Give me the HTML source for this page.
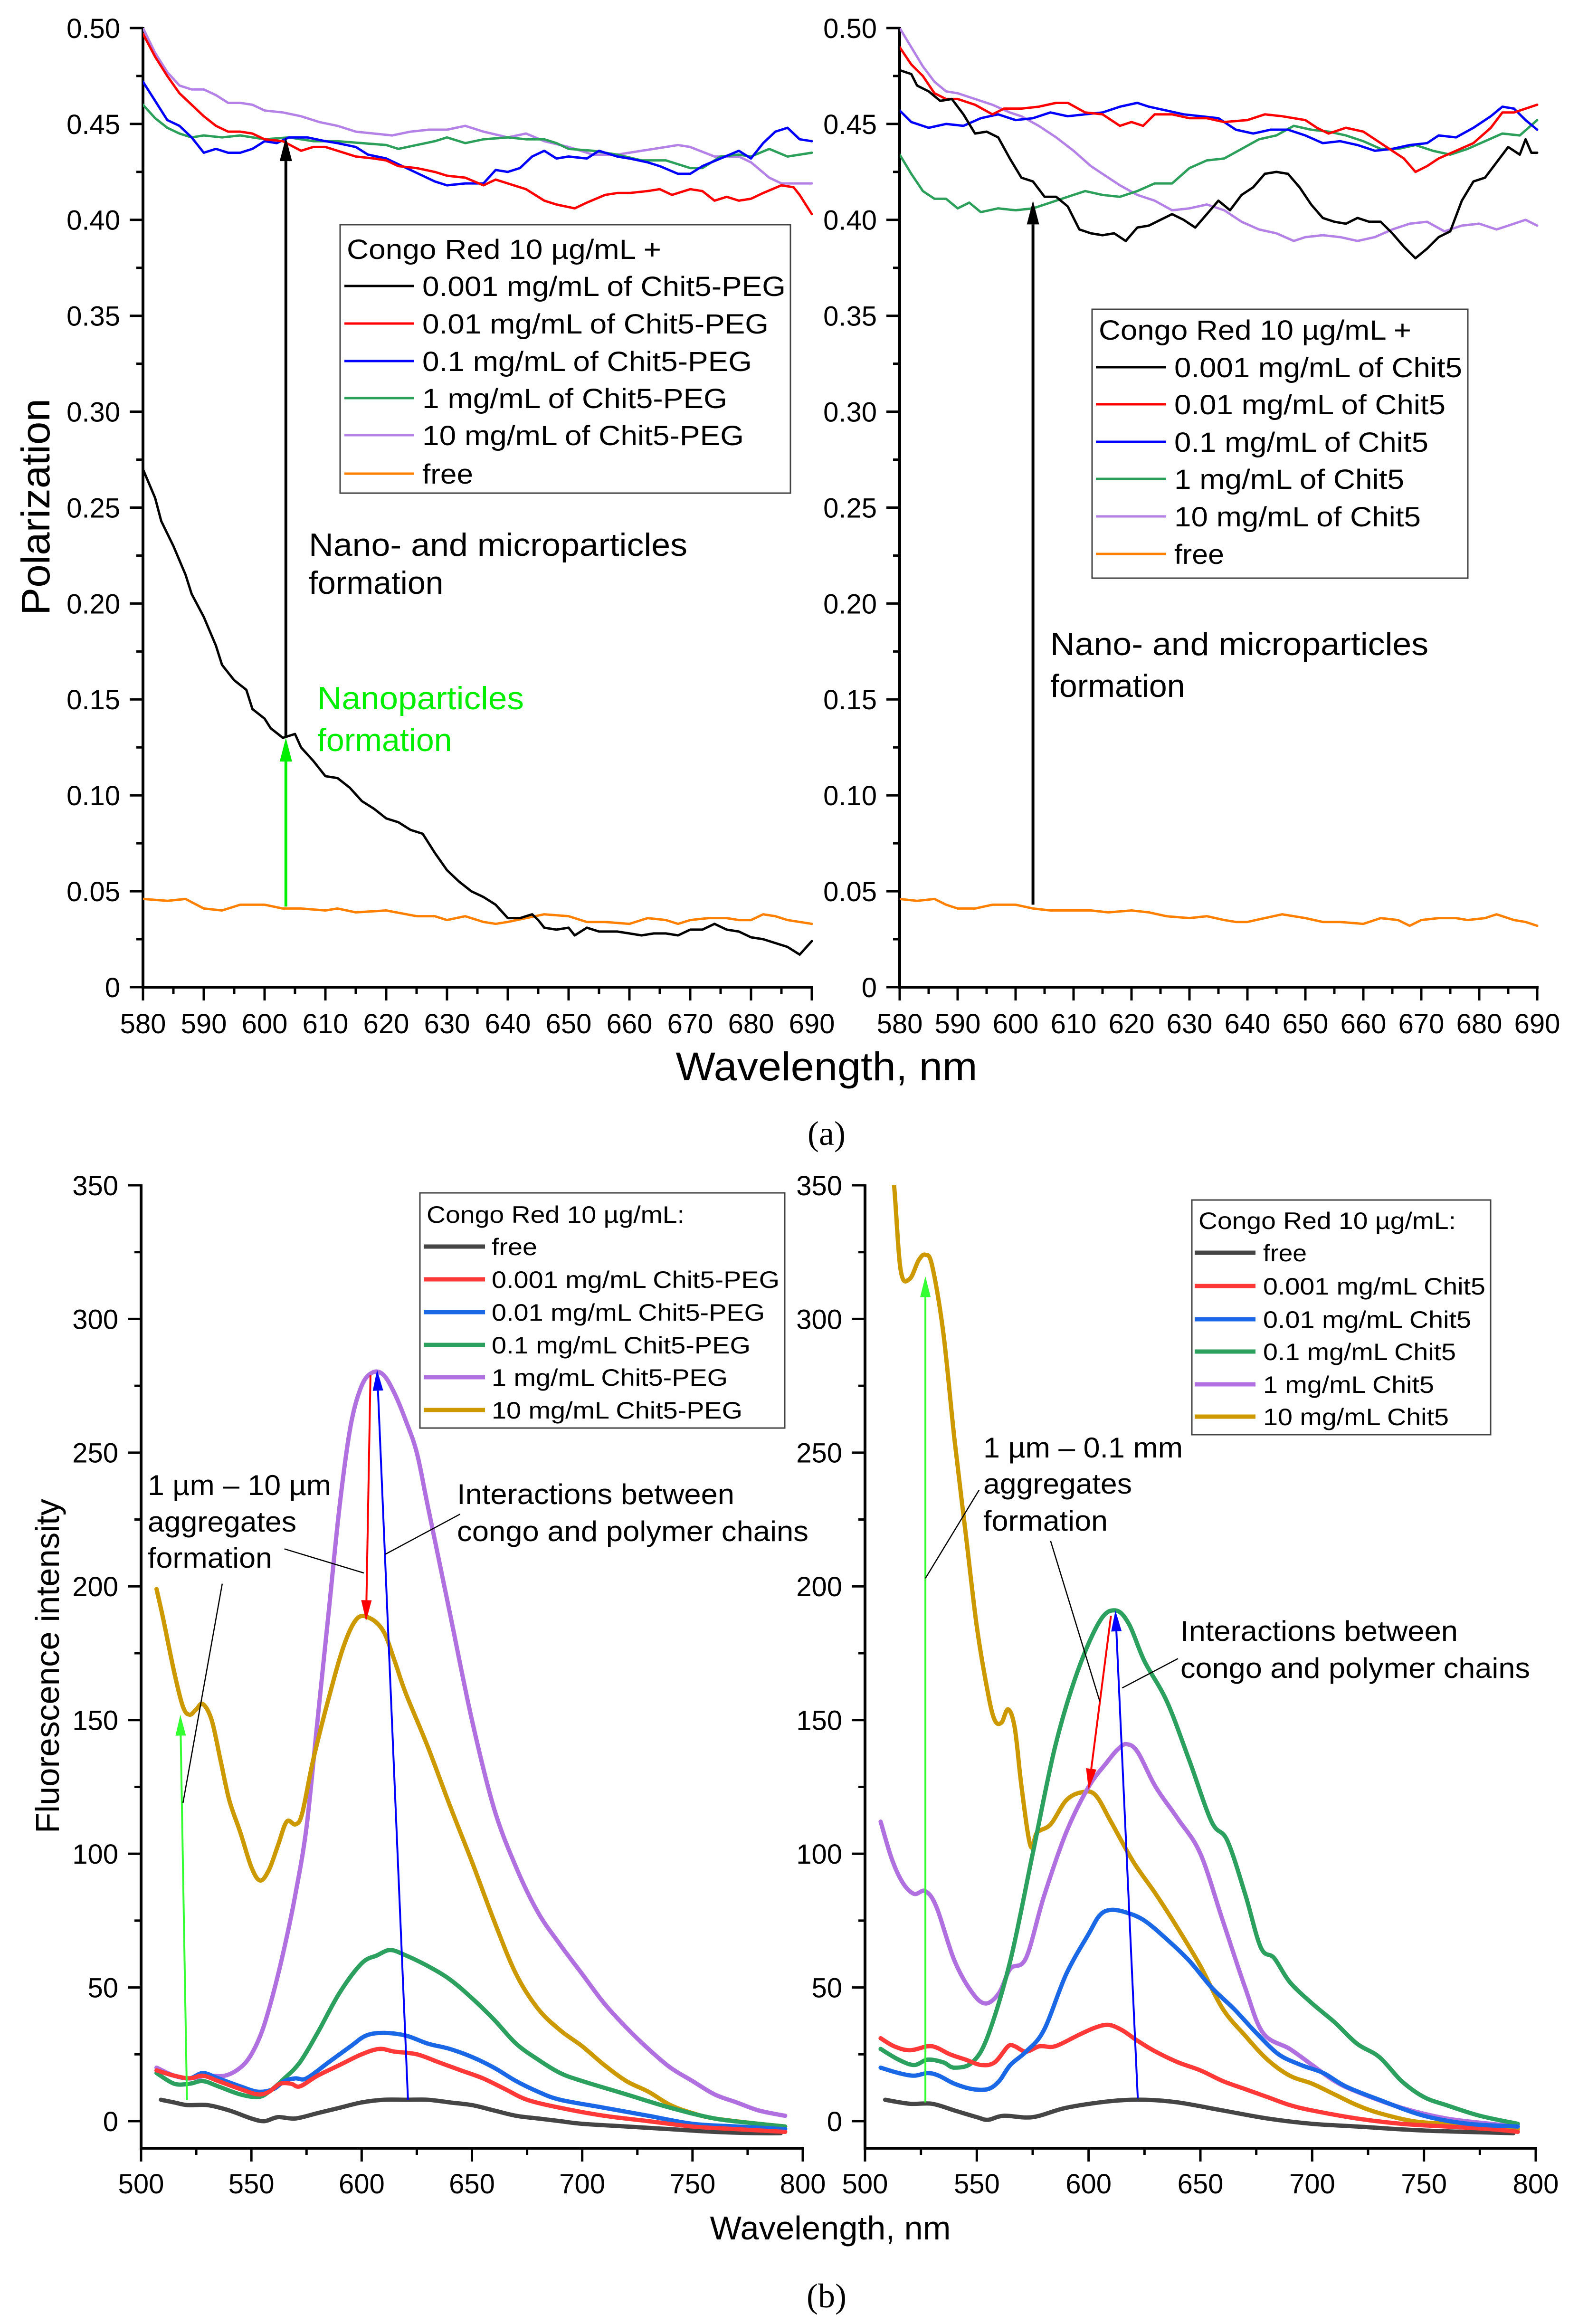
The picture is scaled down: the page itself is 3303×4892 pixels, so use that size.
<!DOCTYPE html>
<html><head><meta charset="utf-8"><style>
html,body{margin:0;padding:0;background:#fff;}
svg{display:block;}
text{font-family:"Liberation Sans",sans-serif;}
</style></head>
<body>
<svg id="fig" xmlns="http://www.w3.org/2000/svg" width="3303" height="4892" viewBox="0 0 3303 4892">
<rect width="3303" height="4892" fill="#fff"/>
<text x="1740" y="2410" font-size="72" text-anchor="middle" style="font-family:'Liberation Serif',serif">(a)</text>
<text x="1740" y="4857" font-size="72" text-anchor="middle" style="font-family:'Liberation Serif',serif">(b)</text>
<text transform="translate(104,1067) rotate(-90)" font-size="84" text-anchor="middle" textLength="456" lengthAdjust="spacingAndGlyphs">Polarization</text>
<text x="1740" y="2274" font-size="84" text-anchor="middle" textLength="635" lengthAdjust="spacingAndGlyphs">Wavelength, nm</text>
<text transform="translate(124,3507) rotate(-90)" font-size="70" text-anchor="middle" textLength="704" lengthAdjust="spacingAndGlyphs">Fluorescence intensity</text>
<text x="1748" y="4714" font-size="70" text-anchor="middle" textLength="507" lengthAdjust="spacingAndGlyphs">Wavelength, nm</text>
</svg>
<script>
// ---------- Panel (a) left: Chit5-PEG polarization ----------
const aLeftBlack=[[580,0.27],[582,0.255],[583,0.243],[585,0.23],[587,0.215],[588,0.205],[590,0.193],[592,0.178],[593,0.168],[595,0.16],[597,0.155],[598,0.145],[600,0.14],[601,0.135],[603,0.13],[605,0.132],[606,0.125],[608,0.118],[610,0.11],[612,0.109],[614,0.104],[616,0.097],[618,0.093],[620,0.088],[622,0.086],[624,0.082],[626,0.08],[628,0.07],[630,0.061],[632,0.055],[634,0.05],[636,0.047],[638,0.043],[640,0.036],[642,0.036],[644,0.038],[645,0.035],[646,0.031],[648,0.03],[650,0.031],[651,0.027],[653,0.031],[655,0.029],[658,0.029],[660,0.028],[662,0.027],[664,0.028],[666,0.028],[668,0.027],[670,0.03],[672,0.03],[674,0.033],[676,0.03],[678,0.029],[680,0.026],[682,0.025],[684,0.023],[686,0.021],[688,0.017],[690,0.024]];
const aLeftRed=[[580,0.497],[582,0.485],[584,0.475],[586,0.466],[588,0.46],[590,0.454],[592,0.449],[594,0.446],[596,0.446],[598,0.445],[600,0.442],[603,0.441],[606,0.436],[608,0.438],[610,0.438],[612,0.436],[615,0.433],[618,0.432],[620,0.431],[622,0.428],[625,0.427],[628,0.425],[630,0.423],[633,0.422],[636,0.418],[638,0.421],[640,0.419],[643,0.416],[646,0.41],[648,0.408],[651,0.406],[653,0.409],[656,0.413],[658,0.414],[660,0.414],[663,0.415],[665,0.416],[667,0.413],[670,0.416],[672,0.415],[674,0.41],[676,0.412],[678,0.41],[680,0.411],[682,0.414],[685,0.418],[687,0.417],[688,0.413],[690,0.403]];
const aLeftBlue=[[580,0.472],[582,0.462],[584,0.452],[586,0.449],[588,0.443],[590,0.435],[592,0.437],[594,0.435],[596,0.435],[598,0.437],[600,0.441],[602,0.44],[604,0.443],[607,0.443],[610,0.441],[612,0.44],[615,0.438],[617,0.434],[620,0.432],[622,0.429],[624,0.426],[626,0.423],[628,0.42],[630,0.418],[633,0.419],[636,0.419],[638,0.426],[640,0.425],[642,0.427],[644,0.433],[646,0.436],[648,0.432],[650,0.433],[653,0.432],[655,0.436],[658,0.433],[660,0.432],[663,0.43],[665,0.428],[668,0.424],[670,0.424],[672,0.428],[675,0.432],[678,0.436],[680,0.432],[682,0.44],[684,0.446],[686,0.448],[688,0.442],[690,0.441]];
const aLeftGreen=[[580,0.46],[582,0.453],[584,0.448],[586,0.445],[588,0.443],[590,0.444],[593,0.443],[596,0.444],[600,0.442],[604,0.443],[608,0.441],[612,0.441],[616,0.44],[620,0.439],[622,0.437],[625,0.439],[628,0.441],[630,0.443],[633,0.44],[636,0.442],[640,0.443],[643,0.442],[646,0.442],[648,0.44],[650,0.437],[654,0.436],[658,0.434],[662,0.431],[666,0.431],[670,0.427],[672,0.427],[675,0.433],[678,0.434],[680,0.433],[683,0.437],[686,0.433],[688,0.434],[690,0.435]];
const aLeftPurple=[[580,0.5],[582,0.487],[584,0.477],[586,0.47],[588,0.468],[590,0.468],[592,0.465],[594,0.461],[596,0.461],[598,0.46],[600,0.457],[603,0.456],[606,0.454],[609,0.451],[612,0.449],[615,0.446],[618,0.445],[621,0.444],[624,0.446],[627,0.447],[630,0.447],[633,0.449],[636,0.446],[640,0.443],[643,0.445],[646,0.441],[650,0.438],[654,0.434],[658,0.434],[662,0.436],[666,0.438],[668,0.439],[670,0.438],[674,0.433],[678,0.433],[680,0.43],[683,0.422],[685,0.419],[688,0.419],[690,0.419]];
const aLeftFree=[[580,0.046],[584,0.045],[587,0.046],[590,0.041],[593,0.04],[596,0.043],[600,0.043],[603,0.041],[606,0.041],[610,0.04],[612,0.041],[615,0.039],[620,0.04],[625,0.037],[628,0.037],[630,0.035],[633,0.037],[636,0.034],[638,0.033],[640,0.034],[643,0.036],[646,0.038],[650,0.037],[653,0.034],[656,0.034],[660,0.033],[663,0.036],[666,0.035],[668,0.033],[670,0.035],[673,0.036],[676,0.036],[678,0.035],[680,0.035],[682,0.038],[684,0.037],[686,0.035],[688,0.034],[690,0.033]];
// ---------- Panel (a) right: Chit5 polarization ----------
const aRightBlack=[[580,0.478],[582,0.476],[583,0.47],[585,0.467],[587,0.462],[589,0.463],[591,0.455],[593,0.445],[595,0.446],[597,0.443],[599,0.432],[601,0.422],[603,0.42],[605,0.412],[607,0.412],[609,0.407],[611,0.395],[613,0.393],[615,0.392],[617,0.393],[619,0.389],[621,0.396],[623,0.397],[625,0.4],[627,0.403],[629,0.4],[631,0.396],[633,0.403],[635,0.41],[637,0.405],[639,0.413],[641,0.417],[643,0.424],[645,0.425],[647,0.424],[649,0.417],[651,0.408],[653,0.401],[655,0.399],[657,0.398],[659,0.401],[661,0.399],[663,0.399],[665,0.393],[667,0.386],[669,0.38],[671,0.385],[673,0.391],[675,0.394],[677,0.41],[679,0.42],[681,0.422],[683,0.43],[685,0.438],[687,0.434],[688,0.442],[689,0.435],[690,0.435]];
const aRightRed=[[580,0.49],[582,0.481],[584,0.475],[586,0.466],[588,0.463],[590,0.463],[593,0.46],[596,0.455],[598,0.458],[601,0.458],[604,0.459],[607,0.461],[609,0.461],[612,0.456],[615,0.455],[618,0.449],[620,0.451],[622,0.449],[624,0.455],[627,0.455],[630,0.453],[633,0.453],[636,0.451],[640,0.452],[643,0.455],[646,0.454],[650,0.452],[652,0.448],[654,0.445],[657,0.448],[660,0.446],[662,0.442],[664,0.438],[667,0.432],[669,0.425],[671,0.428],[673,0.432],[676,0.436],[679,0.44],[682,0.448],[684,0.456],[686,0.456],[688,0.458],[690,0.46]];
const aRightBlue=[[580,0.457],[582,0.451],[585,0.448],[588,0.45],[591,0.449],[594,0.453],[597,0.455],[600,0.452],[603,0.453],[606,0.456],[609,0.454],[612,0.455],[615,0.456],[618,0.459],[621,0.461],[623,0.459],[626,0.457],[629,0.455],[632,0.454],[635,0.453],[638,0.447],[641,0.445],[644,0.447],[647,0.447],[650,0.444],[653,0.44],[656,0.441],[659,0.439],[662,0.436],[665,0.437],[668,0.439],[671,0.44],[673,0.444],[676,0.443],[679,0.448],[682,0.454],[684,0.459],[686,0.458],[688,0.452],[690,0.447]];
const aRightGreen=[[580,0.434],[582,0.424],[584,0.415],[586,0.411],[588,0.411],[590,0.406],[592,0.409],[594,0.404],[597,0.406],[600,0.405],[603,0.406],[606,0.409],[609,0.412],[612,0.415],[615,0.413],[618,0.412],[621,0.415],[624,0.419],[627,0.419],[630,0.427],[633,0.431],[636,0.432],[639,0.437],[642,0.442],[645,0.444],[648,0.449],[651,0.447],[654,0.446],[657,0.444],[660,0.441],[663,0.437],[666,0.437],[669,0.439],[672,0.436],[675,0.434],[678,0.437],[681,0.441],[684,0.445],[687,0.444],[690,0.452]];
const aRightPurple=[[580,0.5],[582,0.49],[584,0.48],[586,0.472],[588,0.467],[590,0.466],[593,0.463],[596,0.46],[599,0.456],[601,0.454],[604,0.449],[607,0.443],[610,0.436],[613,0.428],[615,0.424],[618,0.418],[621,0.413],[624,0.41],[627,0.405],[630,0.406],[633,0.408],[636,0.405],[639,0.399],[642,0.395],[645,0.393],[648,0.389],[650,0.391],[653,0.392],[656,0.391],[659,0.389],[662,0.391],[665,0.395],[668,0.398],[671,0.399],[674,0.394],[677,0.397],[680,0.398],[683,0.395],[686,0.398],[688,0.4],[690,0.397]];
const aRightFree=[[580,0.046],[583,0.045],[586,0.046],[588,0.043],[590,0.041],[593,0.041],[596,0.043],[600,0.043],[603,0.041],[606,0.04],[610,0.04],[613,0.04],[616,0.039],[620,0.04],[623,0.039],[626,0.037],[630,0.036],[633,0.037],[636,0.035],[638,0.034],[640,0.034],[643,0.036],[646,0.038],[650,0.036],[653,0.034],[656,0.034],[660,0.033],[663,0.036],[666,0.035],[668,0.032],[670,0.035],[673,0.036],[676,0.036],[678,0.035],[681,0.036],[683,0.038],[686,0.035],[688,0.034],[690,0.032]];
// ---------- Panel (b) left: Chit5-PEG fluorescence ----------
const bLeftFree=[[509,8],[515,7],[521,6],[530,6],[540,4],[550,1],[556,0],[562,1.5],[570,1],[580,3],[590,5],[600,7],[610,8],[620,8],[630,8],[640,7],[650,6],[660,4],[670,2],[680,1],[690,0],[700,-1],[720,-2],[740,-3],[760,-4],[780,-4.5],[790,-4.5]];
const bLeftC0001=[[507,19],[515,17],[522,16],[528,17],[535,15],[545,12],[553,10],[558,11],[563,14],[568,14],[572,13],[580,17],[590,21],[600,25],[608,27],[615,26],[625,25],[635,22],[645,19],[655,16],[665,12],[675,8],[690,5],[710,2],[730,0],[750,-2],[770,-3],[792,-4]];
const bLeftC001=[[507,19],[515,17],[522,16],[528,18],[535,16],[545,13],[553,11],[560,12],[565,15],[570,16],[575,16],[585,22],[595,28],[602,32],[610,33],[620,32],[630,29],[640,27],[650,24],[660,20],[670,15],[680,11],[690,8],[710,5],[730,2],[750,-1],[770,-2],[792,-3]];
const bLeftC01=[[507,18],[515,14],[522,14],[528,15],[535,13],[545,10],[553,9],[558,11],[565,16],[572,22],[580,33],[590,48],[600,59],[607,62],[613,64],[620,62],[630,58],[640,53],[650,46],[660,38],[670,29],[680,23],[690,18],[700,15],[720,10],[740,5],[760,1],[780,-1],[792,-2]];
const bLeftC1=[[507,20],[515,17],[522,16],[530,17],[538,17],[545,20],[550,25],[555,34],[560,48],[565,65],[570,85],[575,110],[580,150],[585,190],[590,230],[595,260],[600,275],[605,280],[610,279],[615,272],[620,262],[625,250],[630,230],[640,190],[650,150],[660,117],[670,95],[680,78],[690,66],[700,55],[710,44],[720,35],[730,27],[740,20],[750,15],[760,10],[770,7],[780,4],[792,2]];
const bLeftC10=[[507,199],[510,188],[515,168],[519,155],[522,152],[525,154],[528,156],[532,150],[536,135],[540,120],[545,108],[550,95],[554,90],[558,94],[562,103],[566,112],[570,111],[573,115],[578,135],[585,158],[592,178],[598,188],[604,188],[610,183],[615,172],[620,160],[630,140],[640,118],[650,97],[660,75],[670,55],[680,42],[690,34],[700,28],[710,21],[720,15],[730,11],[740,6],[750,3],[760,1],[780,-1],[792,-2]];
// ---------- Panel (b) right: Chit5 fluorescence ----------
const bRightFree=[[509,8],[520,6.5],[530,6.5],[540,4],[550,1.5],[555,0.5],[562,2],[575,1.5],[590,5],[610,7.5],[625,8],[640,7],[660,4],[680,1],[700,-1],[720,-2],[750,-3.5],[790,-4.5]];
const bRightC0001=[[507,31],[513,28],[520,26.5],[528,28],[532,27.5],[538,25],[545,23],[552,21],[558,22],[564,28],[567,28],[572,26],[578,28],[585,28],[595,32],[603,35],[609,36],[615,34],[622,30],[630,26],[640,22],[650,19],[660,15],[670,12],[680,9],[690,6],[700,4],[720,1],[740,-1],[760,-2],[780,-3],[792,-4]];
const bRightC001=[[507,20],[515,18],[522,17],[528,18],[533,17],[540,14],[548,12],[555,12],[560,15],[565,21],[572,26],[580,34],[590,55],[600,70],[605,77],[610,79],[617,78],[625,75],[635,68],[645,60],[655,50],[665,42],[675,33],[685,25],[695,21],[705,18],[715,13],[730,8],[750,2],[770,-1],[792,-2]];
const bRightC01=[[507,27],[515,23],[522,21],[528,23],[535,22],[540,20],[548,22],[555,32],[565,60],[575,100],[585,140],[595,168],[605,187],[612,191],[618,186],[625,172],[635,157],[645,135],[655,112],[662,105],[670,85],[677,65],[683,61],[690,52],[700,44],[710,37],[720,29],[730,24],[740,15],[750,9],[760,6],[775,2],[792,-1]];
const bRightC1=[[507,112],[512,98],[517,89],[522,85],[527,86],[532,80],[540,60],[548,48],[554,44],[560,48],[565,57],[572,61],[580,84],[590,108],[600,125],[608,134],[613,139],[617,141],[622,138],[630,125],[640,113],[650,100],[660,75],[670,50],[678,33],[690,27],[700,21],[710,15],[720,11],[740,5],[760,1],[780,-1],[792,-2]];
const bRightC10=[[510,375],[513,350],[516,318],[520,315],[524,322],[527,324],[530,320],[535,295],[540,255],[545,220],[550,185],[555,160],[558,150],[561,149],[564,154],[567,147],[570,125],[574,103],[577,108],[583,111],[590,120],[597,123],[603,122],[610,112],[620,97],[630,85],[640,72],[650,58],[660,42],[670,32],[680,23],[690,17],[700,14],[710,10],[720,6],[730,3],[745,0],[760,-1],[780,-2],[792,-3]];
// tick labels
const aXTicks=[580,590,600,610,620,630,640,650,660,670,680,690];
const aYTicks=["0","0.05","0.10","0.15","0.20","0.25","0.30","0.35","0.40","0.45","0.50"];
const bXTicks=[500,550,600,650,700,750,800];
const bYTicks=[0,50,100,150,200,250,300,350];

const NS="http://www.w3.org/2000/svg";
const svg=document.getElementById('fig');
function el(tag,attrs,parent){const e=document.createElementNS(NS,tag);for(const k in attrs)e.setAttribute(k,attrs[k]);(parent||svg).appendChild(e);return e;}
function mk(ax){return {x:v=>ax.x0+(v-ax.xmin)/(ax.xmax-ax.xmin)*(ax.x1-ax.x0), y:v=>ax.yz-(v-ax.ymin)/(ax.ymax-ax.ymin)*(ax.yz-ax.yt)};}

const axA1={x0:301,x1:1709,xmin:580,xmax:690,yz:2078,yt:59,ymin:0,ymax:0.5,axisY:2078,top:59};
const axA2={x0:1894,x1:3236,xmin:580,xmax:690,yz:2078,yt:59,ymin:0,ymax:0.5,axisY:2078,top:59};
const axB1={x0:297,x1:1690,xmin:500,xmax:800,yz:4465,yt:2495,ymin:0,ymax:350,axisY:4522,top:2495};
const axB2={x0:1821,x1:3233,xmin:500,xmax:800,yz:4465,yt:2495,ymin:0,ymax:350,axisY:4522,top:2495};

function drawAxes(ax,name,xt,xminor,yt,yvals,yminor,fs,tickLabY){
  const s=mk(ax);
  const g=el('g',{});
  
  
  const yl=el('line',{x1:ax.x0,y1:ax.top-2,x2:ax.x0,y2:ax.axisY+3,stroke:'#000','stroke-width':6},g);
  
  
  const xl=el('line',{x1:ax.x0-3,y1:ax.axisY,x2:ax.x1+3,y2:ax.axisY,stroke:'#000','stroke-width':6},g);
  
  
  for(let v=ax.xmin;v<=ax.xmax+1e-9;v+=xminor){
    const maj=xt.some(t=>Math.abs(t-v)<1e-6);
    const t=el('line',{x1:s.x(v),y1:ax.axisY,x2:s.x(v),y2:ax.axisY+(maj?28:14),stroke:'#000','stroke-width':5},g);
    
    
  }
  xt.forEach(v=>{
    const t=el('text',{x:s.x(v),y:tickLabY,'font-size':fs,'text-anchor':'middle'},g);
    t.textContent=v;
    
    
  });
  for(let v=ax.ymin;v<=ax.ymax+1e-9;v+=yminor){
    const maj=yvals.some(t=>Math.abs(t-v)<1e-6);
    const t=el('line',{x1:ax.x0,y1:s.y(v),x2:ax.x0-(maj?28:14),y2:s.y(v),stroke:'#000','stroke-width':5},g);
    
    
  }
  yvals.forEach((v,i)=>{
    const t=el('text',{x:ax.x0-48,y:s.y(v)+fs*0.36,'font-size':fs,'text-anchor':'end'},g);
    t.textContent=yt[i];
    
    
  });
}
drawAxes(axA1,'polarization-left',aXTicks,5,aYTicks,aYTicks.map(Number),0.025,58,2175);
drawAxes(axA2,'polarization-right',aXTicks,5,aYTicks,aYTicks.map(Number),0.025,58,2175);
drawAxes(axB1,'fluorescence-left',bXTicks,25,bYTicks.map(String),bYTicks,25,58,4617);
drawAxes(axB2,'fluorescence-right',bXTicks,25,bYTicks.map(String),bYTicks,25,58,4617);

let clipN=0;
function series(ax,data,color,w,name,smooth){
  const s=mk(ax);
  const id='clip'+(clipN++);
  const cp=el('clipPath',{id:id});
  el('rect',{x:ax.x0,y:ax.top,width:ax.x1-ax.x0+4,height:ax.axisY-ax.top},cp);
  const P=data.map(p=>[s.x(p[0]),s.y(p[1])]);
  let d;
  if(smooth){
    d='M'+P[0][0].toFixed(1)+','+P[0][1].toFixed(1);
    for(let i=0;i<P.length-1;i++){
      const p0=P[Math.max(0,i-1)],p1=P[i],p2=P[i+1],p3=P[Math.min(P.length-1,i+2)];
      const c1x=p1[0]+(p2[0]-p0[0])/6,c1y=p1[1]+(p2[1]-p0[1])/6;
      const c2x=p2[0]-(p3[0]-p1[0])/6,c2y=p2[1]-(p3[1]-p1[1])/6;
      d+=' C'+c1x.toFixed(1)+','+c1y.toFixed(1)+' '+c2x.toFixed(1)+','+c2y.toFixed(1)+' '+p2[0].toFixed(1)+','+p2[1].toFixed(1);
    }
  } else {
    d=P.map((p,i)=>(i?'L':'M')+p[0].toFixed(1)+','+p[1].toFixed(1)).join(' ');
  }
  const p=el('path',{d:d,fill:'none',stroke:color,'stroke-width':w,'stroke-linejoin':'round','stroke-linecap':'round','clip-path':'url(#'+id+')'});
  
  
}
const cA={black:'#000000',red:'#ff0000',blue:'#0000ff',green:'#2ca05a',purple:'#b482e6',orange:'#ff8000'};
series(axA1,aLeftFree,cA.orange,5,'line-free-peg');
series(axA1,aLeftPurple,cA.purple,5,'line-10mg-peg');
series(axA1,aLeftGreen,cA.green,5,'line-1mg-peg');
series(axA1,aLeftBlue,cA.blue,5,'line-0.1mg-peg');
series(axA1,aLeftRed,cA.red,5,'line-0.01mg-peg');
series(axA1,aLeftBlack,cA.black,5,'line-0.001mg-peg');
series(axA2,aRightFree,cA.orange,5,'line-free-chit5');
series(axA2,aRightPurple,cA.purple,5,'line-10mg-chit5');
series(axA2,aRightGreen,cA.green,5,'line-1mg-chit5');
series(axA2,aRightBlue,cA.blue,5,'line-0.1mg-chit5');
series(axA2,aRightRed,cA.red,5,'line-0.01mg-chit5');
series(axA2,aRightBlack,cA.black,5,'line-0.001mg-chit5');
const cB={free:'#454545',c0001:'#ff3838',c001:'#1a68e6',c01:'#2ca05e',c1:'#b070e0',c10:'#cc9a00'};
series(axB1,bLeftFree,cB.free,9,'curve-free-peg',true);
series(axB1,bLeftC1,cB.c1,9,'curve-1mg-peg',true);
series(axB1,bLeftC10,cB.c10,9,'curve-10mg-peg',true);
series(axB1,bLeftC01,cB.c01,9,'curve-0.1mg-peg',true);
series(axB1,bLeftC001,cB.c001,9,'curve-0.01mg-peg',true);
series(axB1,bLeftC0001,cB.c0001,9,'curve-0.001mg-peg',true);
series(axB2,bRightFree,cB.free,9,'curve-free-chit5',true);
series(axB2,bRightC10,cB.c10,9,'curve-10mg-chit5',true);
series(axB2,bRightC1,cB.c1,9,'curve-1mg-chit5',true);
series(axB2,bRightC01,cB.c01,9,'curve-0.1mg-chit5',true);
series(axB2,bRightC0001,cB.c0001,9,'curve-0.001mg-chit5',true);
series(axB2,bRightC001,cB.c001,9,'curve-0.01mg-chit5',true);

function arrow(ax,xa,ya,xb,yb,color,w,hw,hl,name){
  const s=mk(ax);
  const x1=s.x(xa),y1=s.y(ya),x2=s.x(xb),y2=s.y(yb);
  const dx=x2-x1,dy=y2-y1,L=Math.hypot(dx,dy),ux=dx/L,uy=dy/L;
  const bx=x2-ux*hl,by=y2-uy*hl;
  const g=el('g',{});
  
  
  el('line',{x1:x1,y1:y1,x2:bx,y2:by,stroke:color,'stroke-width':w},g);
  el('polygon',{points:`${x2},${y2} ${bx-uy*hw/2},${by+ux*hw/2} ${bx+uy*hw/2},${by-ux*hw/2}`,fill:color},g);
}
function leader(ax,xa,ya,xb,yb,name){
  const s=mk(ax);
  const l=el('line',{x1:s.x(xa),y1:s.y(ya),x2:s.x(xb),y2:s.y(yb),stroke:'#000','stroke-width':2.5});
  
  
}
arrow(axA1,603.5,0.042,603.5,0.13,'#00ee00',6,26,50,'arrow-nanoparticles');
arrow(axA1,603.5,0.13,603.5,0.443,'#000',6,26,50,'arrow-micro-left');
arrow(axA2,603,0.043,603,0.41,'#000',6,26,50,'arrow-micro-right');
arrow(axB1,520.8,7.9,517.8,152,'#33ff33',4,22,44,'arrow-aggregates-left');
arrow(axB1,604,279,602,187,'#ff0000',4,22,44,'arrow-red-left');
arrow(axB1,621,8,607,281,'#0000ff',4,22,44,'arrow-blue-left');
leader(axB1,536.8,201,519,119,'leader-aggregates-left');
leader(axB1,565,214,601,205,'leader-aggregates-left-2');
leader(axB1,644.6,227,610.7,212,'leader-interactions-left');
arrow(axB2,527,7,527,316,'#33ff33',4,22,44,'arrow-aggregates-right');
arrow(axB2,610,189,600,124,'#ff0000',4,22,44,'arrow-red-right');
arrow(axB2,622,8.5,612,191,'#0000ff',4,22,44,'arrow-blue-right');
leader(axB2,527,203,551,236,'leader-aggregates-right');
leader(axB2,583,217,605,157,'leader-aggregates-right-2');
leader(axB2,640,173,615,162,'leader-interactions-right');

function txt(x,y,s,fs,len,color,name){
  const t=el('text',{x:x,y:y,'font-size':fs,fill:color||'#000'});
  if(len){t.setAttribute('textLength',len);t.setAttribute('lengthAdjust','spacingAndGlyphs');}
  t.textContent=s;
  
  
}
txt(650,1170,'Nano- and microparticles',68,797,'#000','annotation-micro-left');
txt(650,1250,'formation',68,0,'#000','annotation-micro-left-2');
txt(668,1493,'Nanoparticles',68,435,'#00ee00','annotation-nano');
txt(668,1581,'formation',68,0,'#00ee00','annotation-nano-2');
txt(2211,1379,'Nano- and microparticles',68,796,'#000','annotation-micro-right');
txt(2211,1467,'formation',68,0,'#000','annotation-micro-right-2');
txt(311,3147,'1 µm – 10 µm',60,386,'#000','annotation-aggregates-left');
txt(311,3224,'aggregates',60,313,'#000','annotation-aggregates-left-2');
txt(311,3300,'formation',60,262,'#000','annotation-aggregates-left-3');
txt(962,3166,'Interactions between',60,584,'#000','annotation-interactions-left');
txt(962,3244,'congo and polymer chains',60,740,'#000','annotation-interactions-left-2');
txt(2070,3068,'1 µm – 0.1 mm',60,420,'#000','annotation-aggregates-right');
txt(2070,3144,'aggregates',60,313,'#000','annotation-aggregates-right-2');
txt(2070,3222,'formation',60,262,'#000','annotation-aggregates-right-3');
txt(2485,3454,'Interactions between',60,584,'#000','annotation-interactions-right');
txt(2485,3532,'congo and polymer chains',60,736,'#000','annotation-interactions-right-2');

// legends
function legend(box,title,titleLen,labels,lens,colors,rows,sx0,sx1,tx,fs,lw,name){
  const g=el('g',{});
  
  
  el('rect',{x:box[0],y:box[1],width:box[2]-box[0],height:box[3]-box[1],fill:'#fff',stroke:'#444','stroke-width':3},g);
  const t=el('text',{x:box[0]+14,y:rows[0]+fs*0.36,'font-size':fs,textLength:titleLen,lengthAdjust:'spacingAndGlyphs'},g);
  t.textContent=title;
  
  
  labels.forEach((lab,i)=>{
    const y=rows[i+1];
    const l=el('line',{x1:sx0,y1:y,x2:sx1,y2:y,stroke:colors[i],'stroke-width':lw},g);
    
    
    const tt=el('text',{x:tx,y:y+fs*0.36,'font-size':fs,textLength:lens[i],lengthAdjust:'spacingAndGlyphs'},g);
    tt.textContent=lab;
    
    
  });
}
legend([716,473,1664,1038],'Congo Red 10 µg/mL +',662,
 ['0.001 mg/mL of Chit5-PEG','0.01 mg/mL of Chit5-PEG','0.1 mg/mL of Chit5-PEG','1 mg/mL of Chit5-PEG','10 mg/mL of Chit5-PEG','free'],
 [765,729,694,642,677,107],[cA.black,cA.red,cA.blue,cA.green,cA.purple,cA.orange],
 [524,602,681,760,838,916,997],725,872,889,58,5,'legend-top-left');
legend([2299,651,3090,1217],'Congo Red 10 µg/mL +',658,
 ['0.001 mg/mL of Chit5','0.01 mg/mL of Chit5','0.1 mg/mL of Chit5','1 mg/mL of Chit5','10 mg/mL of Chit5','free'],
 [606,571,535,484,519,105],[cA.black,cA.red,cA.blue,cA.green,cA.purple,cA.orange],
 [694,773,851,930,1008,1087,1166],2307,2455,2472,58,5,'legend-top-right');
legend([884,2511,1652,3006],'Congo Red 10 µg/mL:',543,
 ['free','0.001 mg/mL Chit5-PEG','0.01 mg/mL Chit5-PEG','0.1 mg/mL Chit5-PEG','1 mg/mL Chit5-PEG','10 mg/mL Chit5-PEG'],
 [96,606,575,545,497,528],[cB.free,cB.c0001,cB.c001,cB.c01,cB.c1,cB.c10],
 [2556,2624,2693,2762,2831,2899,2968],892,1021,1035,50,9,'legend-bottom-left');
legend([2509,2526,3138,3020],'Congo Red 10 µg/mL:',542,
 ['free','0.001 mg/mL Chit5','0.01 mg/mL Chit5','0.1 mg/mL Chit5','1 mg/mL Chit5','10 mg/mL Chit5'],
 [92,468,438,406,360,391],[cB.free,cB.c0001,cB.c001,cB.c01,cB.c1,cB.c10],
 [2569,2637,2707,2777,2845,2914,2982],2515,2643,2659,50,9,'legend-bottom-right');
</script>
</body></html>
